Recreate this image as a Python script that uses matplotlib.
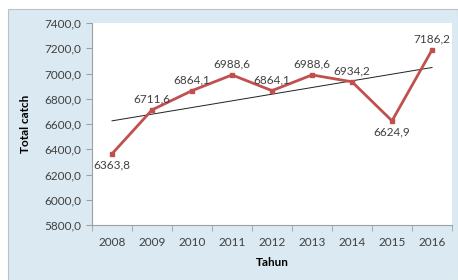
import numpy as np
import matplotlib
matplotlib.use('Agg')
import matplotlib.pyplot as plt
from matplotlib.patches import Rectangle

# data
tahun = ['2008', '2009', '2010', '2011', '2012', '2013', '2014', '2015', '2016']
total_catch = [6363.8, 6711.6, 6864.1, 6988.6, 6864.1, 6988.6, 6934.2, 6624.9, 7186.2]
label_pos = ['below', 'above', 'above', 'above', 'above', 'above', 'above', 'below', 'above']
y_ticks = [5800, 6000, 6200, 6400, 6600, 6800, 7000, 7200, 7400]

plt.rcParams['font.family'] = ['Lato', 'DejaVu Sans']
fs = 8.5

W, H = 458, 280
fig = plt.figure(figsize=(W / 100, H / 100), dpi=100)
fig.patch.set_facecolor('white')

# light blue panel behind the chart
panel = Rectangle((8 / W, 0), (W - 8) / W, (H - 9) / H, transform=fig.transFigure,
                  facecolor='#dbeaf2', edgecolor='#b8c4ca', linewidth=0.8, zorder=-10)
fig.patches.append(panel)

ax = fig.add_axes([92 / W, (H - 225) / H, 360 / W, (225 - 23) / H])
ax.set_facecolor('white')

x = np.arange(len(tahun))
ax.plot(x, total_catch, color='#c0504d', linewidth=2, marker='s', markersize=3.5, zorder=3)

# linear trendline
k, b = np.polyfit(x, total_catch, 1)
ax.plot(x, k * x + b, color='#202020', linewidth=0.7, zorder=2)

for xi, yi, pos in zip(x, total_catch, label_pos):
    txt = f'{yi:.1f}'.replace('.', ',')
    if pos == 'above':
        ax.annotate(txt, (xi, yi), xytext=(0, 4), textcoords='offset points',
                    ha='center', va='bottom', fontsize=fs, color='#404040')
    else:
        ax.annotate(txt, (xi, yi), xytext=(0, -4), textcoords='offset points',
                    ha='center', va='top', fontsize=fs, color='#404040')

ax.set_xlim(-0.5, len(tahun) - 0.5)
ax.set_ylim(5800, 7400)
ax.set_yticks(y_ticks)
ax.set_yticklabels([f'{v:.1f}'.replace('.', ',') for v in y_ticks])
ax.set_xticks(x)
ax.set_xticklabels(tahun)
ax.set_xticks(np.arange(len(tahun) + 1) - 0.5, minor=True)
ax.tick_params(axis='x', which='major', length=0, pad=9, labelsize=fs, labelcolor='#404040')
ax.tick_params(axis='x', which='minor', length=4, color='#a0a0a0', direction='out')
ax.tick_params(axis='y', length=4, color='#a0a0a0', labelsize=fs, labelcolor='#404040', pad=4)

for s in ['top', 'right']:
    ax.spines[s].set_visible(False)
for s in ['left', 'bottom']:
    ax.spines[s].set_color('#a0a0a0')
    ax.spines[s].set_linewidth(0.8)

ax.set_ylabel('Total catch', fontsize=fs, fontweight='bold', labelpad=9)
ax.set_xlabel('Tahun', fontsize=fs, fontweight='bold', labelpad=6)

fig.savefig('out.png', dpi=100)
